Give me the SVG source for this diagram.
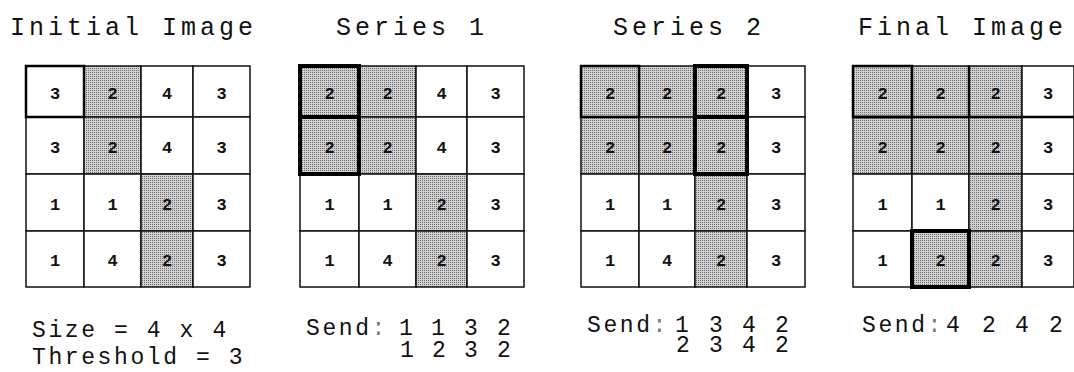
<svg xmlns="http://www.w3.org/2000/svg" width="1074" height="372" viewBox="0 0 1074 372">
<defs>
<pattern id="dots" width="2" height="2" patternUnits="userSpaceOnUse">
<rect width="2" height="2" fill="#d2d2d2"/>
<rect width="1" height="1" fill="#6a6a6a"/>
</pattern>
</defs>
<style>
.c{fill:#fff;stroke:#111;stroke-width:1.5}
.s{fill:url(#dots);stroke:#111;stroke-width:1.5}
.k{fill:none;stroke:#000;stroke-width:4}
.m{fill:none;stroke:#000;stroke-width:2.5}
.n{font-family:"Liberation Mono","Courier New",monospace;font-size:17px;font-weight:bold;text-anchor:middle;fill:#111}
.t{font-family:"Liberation Mono","Courier New",monospace;font-size:25px;letter-spacing:4px;fill:#111}
.b{font-family:"Liberation Mono","Courier New",monospace;font-size:23px;letter-spacing:2.6px;fill:#111}
.col{fill:#777}
</style>
<rect width="1074" height="372" fill="#fff"/>

<g id="initial">
<text class="t" x="10" y="35">Initial Image</text>
<rect class="c" x="26" y="66" width="58" height="51"/><rect class="s" x="84" y="66" width="57" height="51"/><rect class="c" x="141" y="66" width="52" height="51"/><rect class="c" x="193" y="66" width="57" height="51"/>
<rect class="c" x="26" y="117" width="58" height="57"/><rect class="s" x="84" y="117" width="57" height="57"/><rect class="c" x="141" y="117" width="52" height="57"/><rect class="c" x="193" y="117" width="57" height="57"/>
<rect class="c" x="26" y="174" width="58" height="57"/><rect class="c" x="84" y="174" width="57" height="57"/><rect class="s" x="141" y="174" width="52" height="57"/><rect class="c" x="193" y="174" width="57" height="57"/>
<rect class="c" x="26" y="231" width="58" height="56"/><rect class="c" x="84" y="231" width="57" height="56"/><rect class="s" x="141" y="231" width="52" height="56"/><rect class="c" x="193" y="231" width="57" height="56"/>
<rect class="m" x="26" y="66" width="58" height="51"/>
<text class="n" x="55" y="99">3</text><text class="n" x="112.5" y="99">2</text><text class="n" x="167" y="99">4</text><text class="n" x="221.5" y="99">3</text>
<text class="n" x="55" y="153">3</text><text class="n" x="112.5" y="153">2</text><text class="n" x="167" y="153">4</text><text class="n" x="221.5" y="153">3</text>
<text class="n" x="55" y="210">1</text><text class="n" x="112.5" y="210">1</text><text class="n" x="167" y="210">2</text><text class="n" x="221.5" y="210">3</text>
<text class="n" x="55" y="266">1</text><text class="n" x="112.5" y="266">4</text><text class="n" x="167" y="266">2</text><text class="n" x="221.5" y="266">3</text>
<text class="b" x="32" y="337">Size = 4 x 4</text>
<text class="b" x="32" y="364">Threshold = 3</text>
</g>

<g id="series1">
<text class="t" x="336" y="35">Series 1</text>
<rect class="s" x="300" y="66" width="59" height="51"/><rect class="s" x="359" y="66" width="57" height="51"/><rect class="c" x="416" y="66" width="51" height="51"/><rect class="c" x="467" y="66" width="57" height="51"/>
<rect class="s" x="300" y="117" width="59" height="57"/><rect class="s" x="359" y="117" width="57" height="57"/><rect class="c" x="416" y="117" width="51" height="57"/><rect class="c" x="467" y="117" width="57" height="57"/>
<rect class="c" x="300" y="174" width="59" height="57"/><rect class="c" x="359" y="174" width="57" height="57"/><rect class="s" x="416" y="174" width="51" height="57"/><rect class="c" x="467" y="174" width="57" height="57"/>
<rect class="c" x="300" y="231" width="59" height="56"/><rect class="c" x="359" y="231" width="57" height="56"/><rect class="s" x="416" y="231" width="51" height="56"/><rect class="c" x="467" y="231" width="57" height="56"/>
<rect class="k" x="300" y="66" width="59" height="51"/><rect class="k" x="300" y="117" width="59" height="57"/>
<text class="n" x="329.5" y="99">2</text><text class="n" x="387.5" y="99">2</text><text class="n" x="441.5" y="99">4</text><text class="n" x="495.5" y="99">3</text>
<text class="n" x="329.5" y="153">2</text><text class="n" x="387.5" y="153">2</text><text class="n" x="441.5" y="153">4</text><text class="n" x="495.5" y="153">3</text>
<text class="n" x="329.5" y="210">1</text><text class="n" x="387.5" y="210">1</text><text class="n" x="441.5" y="210">2</text><text class="n" x="495.5" y="210">3</text>
<text class="n" x="329.5" y="266">1</text><text class="n" x="387.5" y="266">4</text><text class="n" x="441.5" y="266">2</text><text class="n" x="495.5" y="266">3</text>
<text class="b" x="306" y="335">Send<tspan class="col">:</tspan> <tspan x="399">1</tspan> <tspan x="431">1</tspan> <tspan x="464">3</tspan> <tspan x="497">2</tspan></text>
<text class="b" y="357"><tspan x="400">1</tspan> <tspan x="432">2</tspan> <tspan x="464">3</tspan> <tspan x="497">2</tspan></text>
</g>

<g id="series2">
<text class="t" x="613" y="35">Series 2</text>
<rect class="s" x="581" y="66" width="58" height="51"/><rect class="s" x="639" y="66" width="56" height="51"/><rect class="s" x="695" y="66" width="52" height="51"/><rect class="c" x="747" y="66" width="58" height="51"/>
<rect class="s" x="581" y="117" width="58" height="57"/><rect class="s" x="639" y="117" width="56" height="57"/><rect class="s" x="695" y="117" width="52" height="57"/><rect class="c" x="747" y="117" width="58" height="57"/>
<rect class="c" x="581" y="174" width="58" height="57"/><rect class="c" x="639" y="174" width="56" height="57"/><rect class="s" x="695" y="174" width="52" height="57"/><rect class="c" x="747" y="174" width="58" height="57"/>
<rect class="c" x="581" y="231" width="58" height="56"/><rect class="c" x="639" y="231" width="56" height="56"/><rect class="s" x="695" y="231" width="52" height="56"/><rect class="c" x="747" y="231" width="58" height="56"/>
<rect class="m" x="581" y="66" width="58" height="51"/>
<rect class="k" x="695" y="66" width="52" height="51"/><rect class="k" x="695" y="117" width="52" height="57"/>
<text class="n" x="610" y="99">2</text><text class="n" x="667" y="99">2</text><text class="n" x="721" y="99">2</text><text class="n" x="776" y="99">3</text>
<text class="n" x="610" y="153">2</text><text class="n" x="667" y="153">2</text><text class="n" x="721" y="153">2</text><text class="n" x="776" y="153">3</text>
<text class="n" x="610" y="210">1</text><text class="n" x="667" y="210">1</text><text class="n" x="721" y="210">2</text><text class="n" x="776" y="210">3</text>
<text class="n" x="610" y="266">1</text><text class="n" x="667" y="266">4</text><text class="n" x="721" y="266">2</text><text class="n" x="776" y="266">3</text>
<text class="b" x="587" y="332">Send<tspan class="col">:</tspan> <tspan x="675">1</tspan> <tspan x="709">3</tspan> <tspan x="742">4</tspan> <tspan x="775">2</tspan></text>
<text class="b" y="352"><tspan x="676">2</tspan> <tspan x="709">3</tspan> <tspan x="742">4</tspan> <tspan x="775">2</tspan></text>
</g>

<g id="final">
<text class="t" x="858" y="35">Final Image</text>
<rect class="s" x="853" y="66" width="59" height="51"/><rect class="s" x="912" y="66" width="57" height="51"/><rect class="s" x="969" y="66" width="53" height="51"/><rect class="c" x="1022" y="66" width="52" height="51"/>
<rect class="s" x="853" y="117" width="59" height="57"/><rect class="s" x="912" y="117" width="57" height="57"/><rect class="s" x="969" y="117" width="53" height="57"/><rect class="c" x="1022" y="117" width="52" height="57"/>
<rect class="c" x="853" y="174" width="59" height="57"/><rect class="c" x="912" y="174" width="57" height="57"/><rect class="s" x="969" y="174" width="53" height="57"/><rect class="c" x="1022" y="174" width="52" height="57"/>
<rect class="c" x="853" y="231" width="59" height="56"/><rect class="s" x="912" y="231" width="57" height="56"/><rect class="s" x="969" y="231" width="53" height="56"/><rect class="c" x="1022" y="231" width="52" height="56"/>
<rect class="m" x="853" y="66" width="59" height="51"/>
<line class="m" x1="853" y1="117" x2="1074" y2="117"/><line class="m" x1="969" y1="66" x2="969" y2="117"/>
<rect class="k" x="912" y="231" width="57" height="56"/>
<text class="n" x="882.5" y="99">2</text><text class="n" x="940.5" y="99">2</text><text class="n" x="995.5" y="99">2</text><text class="n" x="1048" y="99">3</text>
<text class="n" x="882.5" y="153">2</text><text class="n" x="940.5" y="153">2</text><text class="n" x="995.5" y="153">2</text><text class="n" x="1048" y="153">3</text>
<text class="n" x="882.5" y="210">1</text><text class="n" x="940.5" y="210">1</text><text class="n" x="995.5" y="210">2</text><text class="n" x="1048" y="210">3</text>
<text class="n" x="882.5" y="266">1</text><text class="n" x="940.5" y="266">2</text><text class="n" x="995.5" y="266">2</text><text class="n" x="1048" y="266">3</text>
<text class="b" x="862" y="332">Send<tspan class="col">:</tspan> <tspan x="946">4</tspan> <tspan x="982">2</tspan> <tspan x="1015">4</tspan> <tspan x="1049">2</tspan></text>
</g>

<g id="connectors"></g>
</svg>
